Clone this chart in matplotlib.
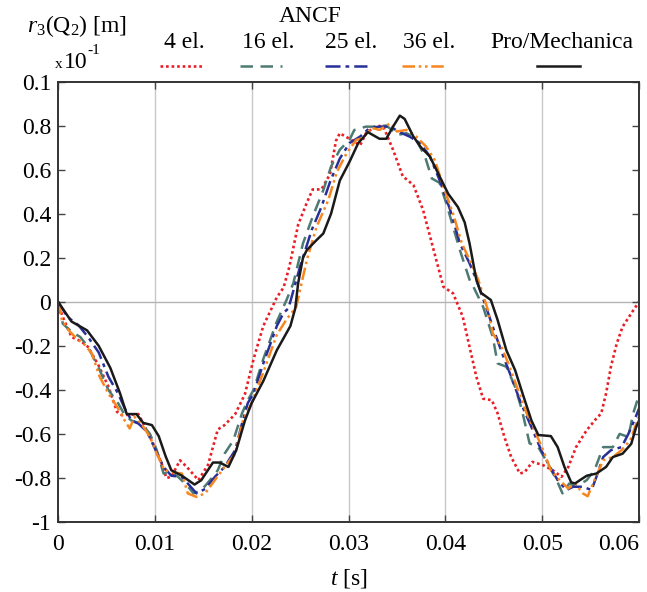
import numpy as np
import matplotlib
matplotlib.use("Agg")
import matplotlib.pyplot as plt
from matplotlib.lines import Line2D

plt.rcParams['font.family'] = ['Liberation Serif', 'DejaVu Serif']
plt.rcParams['mathtext.fontset'] = 'custom'
plt.rcParams['mathtext.rm'] = 'Liberation Serif'
plt.rcParams['mathtext.it'] = 'Liberation Serif:italic'

# ── Data ──────
# (t [s], r3 [x 1e-1 m])
el4 = [(0, 0), (0.0005, -0.07), (0.0014, -0.16), (0.0024, -0.18), (0.0031, -0.205), (0.0042, -0.29),
       (0.0052, -0.385), (0.0061, -0.50), (0.0066, -0.515), (0.0083, -0.51), (0.009, -0.57), (0.01, -0.66),
       (0.0107, -0.735), (0.0112, -0.80), (0.0117, -0.795), (0.0126, -0.72), (0.0133, -0.75), (0.0145, -0.81),
       (0.0155, -0.74), (0.0165, -0.58), (0.0172, -0.56), (0.0183, -0.51), (0.0193, -0.42), (0.0202, -0.26),
       (0.0212, -0.11), (0.0226, 0.02), (0.0233, 0.065), (0.0239, 0.16), (0.0248, 0.35), (0.0257, 0.45),
       (0.0263, 0.51), (0.0272, 0.51), (0.0281, 0.58), (0.0287, 0.73), (0.0291, 0.765), (0.0301, 0.74),
       (0.0312, 0.71), (0.0318, 0.765), (0.0329, 0.80), (0.0336, 0.795), (0.0346, 0.69), (0.0356, 0.57),
       (0.0367, 0.53), (0.0377, 0.417), (0.0387, 0.25), (0.0398, 0.068), (0.0408, 0.038), (0.0418, -0.068),
       (0.0425, -0.205), (0.0432, -0.34), (0.0439, -0.44), (0.0448, -0.447), (0.0454, -0.507), (0.0461, -0.614),
       (0.0468, -0.705), (0.0477, -0.78), (0.0482, -0.773), (0.049, -0.727), (0.0501, -0.742), (0.0511, -0.765),
       (0.052, -0.795), (0.0527, -0.75), (0.0535, -0.66), (0.0546, -0.583), (0.0556, -0.53), (0.0561, -0.507),
       (0.0566, -0.416), (0.0571, -0.295), (0.0577, -0.19), (0.0583, -0.114), (0.0592, -0.053), (0.06, 0.0)]

el16 = [(0, 0), (0.0005, -0.1), (0.0014, -0.136), (0.0023, -0.16), (0.0031, -0.205), (0.0042, -0.3),
        (0.0052, -0.4), (0.0062, -0.46), (0.0069, -0.515), (0.0076, -0.54), (0.0086, -0.553), (0.0095, -0.6),
        (0.0102, -0.674), (0.0109, -0.78), (0.0116, -0.773), (0.0124, -0.795), (0.0133, -0.833), (0.014, -0.87),
        (0.0148, -0.856), (0.0157, -0.81), (0.0165, -0.765), (0.0172, -0.69), (0.0181, -0.63), (0.019, -0.507),
        (0.0196, -0.447), (0.0202, -0.40), (0.0212, -0.26), (0.0226, -0.09), (0.0236, 0.008), (0.0243, 0.084),
        (0.0253, 0.265), (0.0263, 0.386), (0.0274, 0.507), (0.0282, 0.614), (0.0291, 0.69), (0.0301, 0.735),
        (0.0306, 0.78), (0.0318, 0.795), (0.0329, 0.795), (0.0339, 0.80), (0.0351, 0.758), (0.036, 0.765),
        (0.0369, 0.743), (0.0379, 0.66), (0.0386, 0.56), (0.0394, 0.54), (0.0401, 0.447), (0.0408, 0.34),
        (0.0415, 0.235), (0.0425, 0.1), (0.0429, 0.068), (0.0439, -0.023), (0.0449, -0.16), (0.0454, -0.28),
        (0.0463, -0.295), (0.0472, -0.386), (0.0479, -0.49), (0.0487, -0.643), (0.0496, -0.66), (0.0504, -0.72),
        (0.0515, -0.81), (0.0521, -0.87), (0.0528, -0.825), (0.0535, -0.84), (0.0546, -0.81), (0.0554, -0.765),
        (0.0563, -0.66), (0.0573, -0.66), (0.058, -0.6), (0.0589, -0.614), (0.0594, -0.507), (0.06, -0.424)]

el25 = [(0, 0), (0.001, -0.07), (0.0021, -0.106), (0.0031, -0.16), (0.0042, -0.23), (0.0052, -0.34),
        (0.0062, -0.416), (0.0069, -0.485), (0.0076, -0.54), (0.0083, -0.553), (0.0092, -0.59), (0.01, -0.666),
        (0.0109, -0.75), (0.0117, -0.79), (0.0128, -0.795), (0.0134, -0.825), (0.0143, -0.87), (0.0152, -0.85),
        (0.0162, -0.795), (0.0172, -0.75), (0.0183, -0.674), (0.019, -0.553), (0.0196, -0.46), (0.0202, -0.416),
        (0.0212, -0.28), (0.0226, -0.11), (0.0233, -0.05), (0.0238, -0.03), (0.025, 0.16), (0.0262, 0.326),
        (0.0272, 0.43), (0.0281, 0.545), (0.0291, 0.65), (0.0301, 0.72), (0.0312, 0.75), (0.0322, 0.79),
        (0.0332, 0.795), (0.0343, 0.795), (0.0353, 0.77), (0.0363, 0.75), (0.0374, 0.72), (0.0384, 0.66),
        (0.0394, 0.553), (0.0405, 0.417), (0.0415, 0.265), (0.0425, 0.175), (0.0432, 0.10), (0.0442, -0.023),
        (0.0451, -0.14), (0.046, -0.25), (0.0468, -0.34), (0.0478, -0.46), (0.0489, -0.57), (0.0499, -0.674),
        (0.0508, -0.75), (0.0516, -0.81), (0.0525, -0.855), (0.0532, -0.84), (0.0542, -0.84), (0.0551, -0.855),
        (0.0556, -0.795), (0.0563, -0.705), (0.0571, -0.674), (0.0582, -0.66), (0.0589, -0.6), (0.0595, -0.54),
        (0.06, -0.485)]

el36 = [(0, 0), (0.0003, -0.05), (0.0004, -0.083), (0.0011, -0.13), (0.0019, -0.166), (0.0028, -0.197),
        (0.0035, -0.235), (0.0043, -0.34), (0.0052, -0.416), (0.0061, -0.477), (0.0069, -0.54), (0.0074, -0.575),
        (0.0079, -0.523), (0.0086, -0.553), (0.0095, -0.614), (0.0102, -0.69), (0.011, -0.765), (0.0117, -0.773),
        (0.0128, -0.78), (0.0134, -0.87), (0.0143, -0.886), (0.0152, -0.87), (0.0162, -0.81), (0.0172, -0.75),
        (0.0183, -0.69), (0.0191, -0.54), (0.02, -0.46), (0.0212, -0.32), (0.0226, -0.15), (0.0236, -0.08),
        (0.0246, -0.023), (0.0257, 0.19), (0.0267, 0.34), (0.0279, 0.46), (0.0288, 0.59), (0.0298, 0.674),
        (0.0308, 0.735), (0.0315, 0.743), (0.0324, 0.79), (0.0332, 0.78), (0.0343, 0.81), (0.035, 0.773),
        (0.036, 0.78), (0.037, 0.75), (0.038, 0.705), (0.0389, 0.644), (0.0398, 0.523), (0.0408, 0.40),
        (0.0417, 0.265), (0.0425, 0.19), (0.0434, 0.10), (0.0444, -0.038), (0.0449, -0.144), (0.0458, -0.205),
        (0.0465, -0.28), (0.0475, -0.40), (0.0484, -0.507), (0.0492, -0.583), (0.0501, -0.674), (0.0509, -0.765),
        (0.0518, -0.81), (0.0527, -0.848), (0.0534, -0.825), (0.0542, -0.87), (0.0547, -0.883), (0.0554, -0.81),
        (0.0563, -0.72), (0.0573, -0.705), (0.0582, -0.674), (0.0591, -0.628), (0.06, -0.52)]

pro_mech = [(0, 0), (0.0014, -0.09), (0.003, -0.13), (0.0042, -0.20), (0.0054, -0.30), (0.0064, -0.415),
            (0.0071, -0.51), (0.0081, -0.51), (0.0088, -0.55), (0.0097, -0.56), (0.0104, -0.61), (0.0111, -0.70),
            (0.0117, -0.765), (0.0128, -0.79), (0.0141, -0.83), (0.0148, -0.81), (0.016, -0.73), (0.0167, -0.73),
            (0.0176, -0.75), (0.0184, -0.675), (0.0193, -0.54), (0.02, -0.46), (0.0212, -0.36), (0.0226, -0.22),
            (0.024, -0.11), (0.0245, -0.03), (0.0248, 0.084), (0.0253, 0.20), (0.0257, 0.235), (0.0267, 0.28),
            (0.0274, 0.31), (0.0282, 0.40), (0.0291, 0.55), (0.0301, 0.635), (0.031, 0.72), (0.032, 0.77),
            (0.0332, 0.74), (0.0339, 0.74), (0.0346, 0.795), (0.0353, 0.845), (0.0358, 0.83), (0.0367, 0.75),
            (0.0375, 0.70), (0.0384, 0.66), (0.0394, 0.57), (0.0403, 0.49), (0.0413, 0.43), (0.042, 0.36),
            (0.0425, 0.265), (0.0432, 0.10), (0.0437, 0.04), (0.0447, 0.008), (0.0454, -0.083), (0.0463, -0.22),
            (0.0472, -0.31), (0.048, -0.42), (0.0489, -0.54), (0.0496, -0.605), (0.0509, -0.61), (0.0516, -0.66),
            (0.0523, -0.75), (0.053, -0.82), (0.0534, -0.825), (0.0539, -0.81), (0.0546, -0.79), (0.0556, -0.78),
            (0.0566, -0.75), (0.0573, -0.705), (0.0583, -0.69), (0.0592, -0.645), (0.0597, -0.57), (0.06, -0.54)]

labels = ['4 el.', '16 el.', '25 el.', '36 el.', 'Pro/Mechanica']
colors = ['#ec1c24', '#4d7a72', '#27309a', '#f7861e', '#1a1a1a']
styles = [(0, (1, 1.1)), (0, (5, 3)), (0, (6, 2, 1.5, 2)), (0, (5, 1.5, 1, 1.5, 1, 1.5)), '-']
widths = [1.9, 1.8, 1.8, 1.8, 1.8]
series = [el4, el16, el25, el36, pro_mech]

xticks = [0, 0.01, 0.02, 0.03, 0.04, 0.05, 0.06]
xticklabels = ['0', '0.01', '0.02', '0.03', '0.04', '0.05', '0.06']
yticks = [-1, -0.8, -0.6, -0.4, -0.2, 0, 0.2, 0.4, 0.6, 0.8, 1.0]
yticklabels = ['-1', '-0.8', '-0.6', '-0.4', '-0.2', '0', '0.2', '0.4', '0.6', '0.8', '0.1']

W, H = 647, 592
fig = plt.figure(figsize=(W / 100, H / 100), dpi=100)
ax = fig.add_axes([58 / W, 70 / H, 581 / W, 440.5 / H])

for x in xticks[1:-1]:
    ax.axvline(x, color='#c8c8c8', lw=1.0, zorder=0)
ax.axhline(0, color='#b4b4b4', lw=1.0, zorder=0)

for s, c, ls, lw in zip(series, colors, styles, widths):
    d = np.array(s)
    ax.plot(d[:, 0], d[:, 1], color=c, ls=ls, lw=lw)

ax.set_xlim(0, 0.06)
ax.set_ylim(-1, 1)
ax.set_xticks(xticks)
ax.set_xticklabels(xticklabels)
ax.set_yticks(yticks)
ax.set_yticklabels(yticklabels)
ax.tick_params(direction='in', length=5, width=1, labelsize=17, top=True, right=True, color='#444444')
ax.tick_params(axis='x', pad=9)
ax.tick_params(axis='y', pad=5)
ax.get_xticklabels()[-1].set_horizontalalignment('right')
for sp in ax.spines.values():
    sp.set_color('#333333')
    sp.set_linewidth(1.4)

ax.set_xlabel('$t$ [s]', fontsize=17, labelpad=8)


def fx(px):
    return px / W


def fy(py):
    return 1 - py / H


# header: axis label, scale factor and legend
fig.text(fx(27), fy(26), r'$r_{3}$(Q$_{2}$) [m]', fontsize=17, va='center', ha='left')
fig.text(fx(55), fy(64), 'x', fontsize=11, va='center', ha='left')
fig.text(fx(64), fy(63), '10', fontsize=17, va='center', ha='left')
fig.text(fx(87), fy(50), '-1', fontsize=11, va='center', ha='left')
fig.text(fx(310), fy(16), 'ANCF', fontsize=17, va='center', ha='center')

lab_x = [184, 268, 351, 429, 562]
samp_x = [(160, 203), (240, 282), (325, 367), (402, 445), (537, 580)]
for lab, lx, (x0, x1), c, ls, lw in zip(labels, lab_x, samp_x, colors, styles, widths):
    fig.text(fx(lx), fy(43), lab, fontsize=17, va='center', ha='center')
    fig.add_artist(Line2D([fx(x0), fx(x1)], [fy(66), fy(66)], color=c, ls=ls, lw=lw,
                          transform=fig.transFigure))

fig.savefig('out.png', dpi=100)
